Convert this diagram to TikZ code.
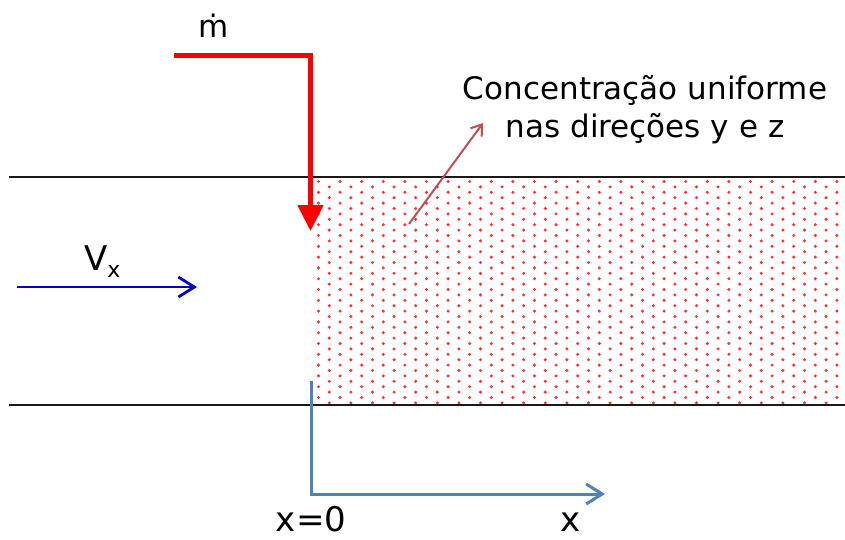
\documentclass[tikz,border=0pt]{standalone}
\usepackage{fontspec}
\setmainfont{DejaVu Sans}
\usetikzlibrary{arrows.meta}
\definecolor{axisblue}{HTML}{4F81BD}
\definecolor{flowblue}{HTML}{0000CC}
\definecolor{notered}{HTML}{C0504D}
\tikzset{
  wall/.style={line width=2.2pt, black!90},
  massarrow/.style={line width=5pt, red, -{Triangle[length=26pt,width=25pt]}},
  flowarrow/.style={line width=2.8pt, flowblue, -{Straight Barb[length=16pt,width=20pt]}},
  axisarrow/.style={line width=3pt, axisblue, -{Straight Barb[length=16pt,width=20pt]}},
  notearrow/.style={line width=2pt, notered, -{Straight Barb[length=10pt,width=14pt]}},
  lbl/.style={inner sep=0pt, font=\fontsize{31}{38}\selectfont},
  biglbl/.style={inner sep=0pt, font=\fontsize{34}{38}\selectfont},
  dotc/.style={fill=red!80}
}
\begin{document}
\begin{tikzpicture}[x=1pt,y=-1pt]
\useasboundingbox (0,0) rectangle (845,539);
% dotted region
\foreach \i in {0,...,49} {
  \foreach \j in {0,...,20} {
    \pgfmathsetmacro\xx{318.5+10.8*\i}
    \pgfmathsetmacro\yy{181.5+10.8*\j+5.4*mod(\i,2)}
    \ifdim\yy pt<403pt
      \ifdim\xx pt<846pt
        \fill[dotc] (\xx,\yy) circle[radius=1.7pt];
      \fi
    \fi
  }
}
% walls
\coordinate (tl) at (9,177);
\coordinate (tr) at (845,177);
\coordinate (bl) at (9,405);
\coordinate (br) at (845,405);
\draw[wall] (tl) -- (tr);
\draw[wall] (bl) -- (br);
% mass inflow arrow
\coordinate (m0) at (174,55);
\coordinate (m1) at (310.5,55);
\coordinate (m2) at (310.5,231);
\draw[massarrow] (m0) -- (m1) -- (m2);
\node[lbl, anchor=base] (mdot) at (213.5,37) {ṁ};
% flow velocity arrow
\coordinate (v0) at (17,287);
\coordinate (v1) at (197,287);
\draw[flowarrow] (v0) -- (v1);
\node[inner sep=0pt, font=\fontsize{34}{38}\selectfont, anchor=base west] (vx) at (84,270) {V\raisebox{-7pt}{\fontsize{22}{22}\selectfont x}};
% axis
\coordinate (a0) at (311,381);
\coordinate (a1) at (311,494);
\coordinate (a2) at (605,494);
\draw[axisarrow] (a0) -- (a1) -- (a2);
\node[biglbl, anchor=base] (x0) at (311,531) {x=0};
\node[biglbl, anchor=base] (xl) at (571,531) {x};
% note
\node[lbl, anchor=base] (note1) at (645,99) {Concentração uniforme};
\node[lbl, anchor=base] (note2) at (645,137) {nas direções y e z};
\coordinate (n0) at (409,224);
\coordinate (n1) at (483,123);
\draw[notearrow] (n0) -- (n1);
\end{tikzpicture}
\end{document}
